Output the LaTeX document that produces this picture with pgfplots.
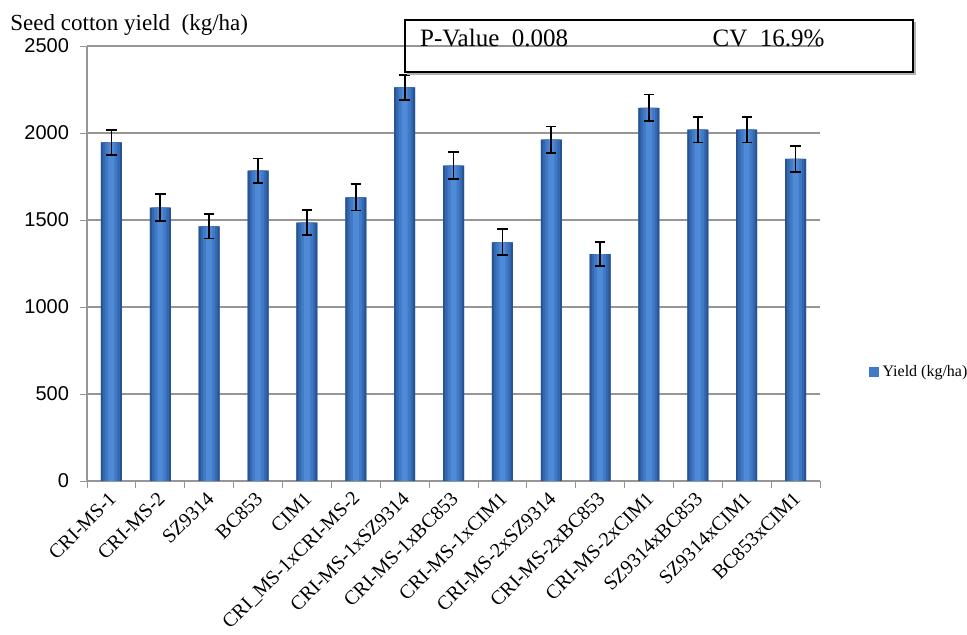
\documentclass[border=0pt]{standalone}
\usepackage{pgfplots}
\usepackage{pgfplotstable}
\usepackage{fontspec}
\pgfplotsset{compat=1.18}
\setmainfont{Liberation Serif}
\newfontfamily\arialf{Liberation Sans}

\definecolor{barA}{RGB}{40,82,145}
\definecolor{barB}{RGB}{52,104,176}
\definecolor{barC}{RGB}{64,122,198}
\definecolor{barD}{RGB}{78,138,214}
\definecolor{gridgray}{RGB}{150,150,150}

% yield per genotype, with error
\pgfplotstableread{
x y e
0 1946 73
1 1571 78
2 1463 70
3 1783 70
4 1485 72
5 1630 76
6 2262 71
7 1812 77
8 1372 75
9 1962 76
10 1304 70
11 2145 77
12 2019 73
13 2019 73
14 1851 75
}\yielddata

\begin{document}
\begin{tikzpicture}
\begin{axis}[
    scale only axis,
    width=366.5pt, height=217.5pt,
    ybar, bar width=10.5pt,
    ymin=0, ymax=2500, ytick={0,500,...,2500},
    xmin=-0.5, xmax=14.5,
    xtick={0,...,14},
    xticklabels={CRI-MS-1, CRI-MS-2, SZ9314, BC853, CIM1, CRI\_MS-1xCRI-MS-2, CRI-MS-1xSZ9314, CRI-MS-1xBC853, CRI-MS-1xCIM1, CRI-MS-2xSZ9314, CRI-MS-2xBC853, CRI-MS-2xCIM1, SZ9314xBC853, SZ9314xCIM1, BC853xCIM1},
    minor xtick={-0.5,0.5,...,14.5},
    x tick label style={font=\fontsize{10}{12}\selectfont, rotate=45, anchor=east, yshift=-3pt, xshift=-1pt, inner sep=1pt},
    y tick label style={font=\arialf\fontsize{10}{12}\selectfont, /pgf/number format/assume math mode=true, /pgf/number format/1000 sep={}, xshift=-2pt},
    major x tick style={draw=none},
    minor x tick style={draw=gridgray, thin},
    y tick style={draw=gridgray, thin},
    tick align=outside,
    major tick length=3.5pt, minor tick length=3.5pt,
    ymajorgrids, grid style={gridgray, line width=0.6pt},
    axis lines*=left,
    axis line style={draw=gridgray, line width=0.6pt, -},
    clip=false,
    legend style={at={(rel axis cs:1.058,0.25)}, anchor=west, draw=none, fill=none, font=\fontsize{8}{10}\selectfont},
    legend image code/.code={\path[#1, draw=none] (0pt,-2.4pt) rectangle (4.8pt,2.4pt);},
]
% bars drawn in layers of decreasing width for the rounded look
\addplot[draw=none, fill=barC, bar shift=0pt, bar width=10.5pt] table[x=x, y=y] {\yielddata};
\addlegendentry{Yield (kg/ha)}
\addplot[forget plot, draw=none, fill=barA, bar shift=0pt, bar width=10.5pt] table[x=x, y=y] {\yielddata};
\addplot[forget plot, draw=none, fill=barB, bar shift=0pt, bar width=8.5pt] table[x=x, y=y] {\yielddata};
\addplot[forget plot, draw=none, fill=barC, bar shift=0pt, bar width=6pt] table[x=x, y=y] {\yielddata};
\addplot[forget plot, draw=none, fill=barD, bar shift=0pt, bar width=3pt,
    error bars/.cd, y dir=both, y explicit,
    error bar style={black, line width=0.85pt},
    error mark options={rotate=90, mark size=2.6pt, black, line width=0.85pt},
] table[x=x, y=y, y error=e] {\yielddata};

\draw[gray!60, line width=1pt] ([xshift=1pt,yshift=-1pt]rel axis cs:0.434,0.940) -- ([xshift=1pt,yshift=-1pt]rel axis cs:1.127,0.940) -- ([xshift=1pt,yshift=-1pt]rel axis cs:1.127,1.060);
\draw[black, line width=0.8pt] (rel axis cs:0.434,0.940) rectangle (rel axis cs:1.127,1.060);
\node[anchor=west, inner sep=0pt, font=\fontsize{12.5}{14}\selectfont] at (rel axis cs:0.454,1.018) {P-Value\ \ 0.008};
\node[anchor=west, inner sep=0pt, font=\fontsize{12.5}{14}\selectfont] at (rel axis cs:0.853,1.018) {CV\ \ 16.9\%};
\node[anchor=west, inner sep=0pt, font=\fontsize{11.5}{13}\selectfont] at (rel axis cs:-0.105,1.048) {Seed cotton yield\ \ (kg/ha)};

\coordinate (BL) at (rel axis cs:-0.1187,-0.354);
\coordinate (TR) at (rel axis cs:1.2005,1.1057);
\end{axis}
\pgfresetboundingbox
\path[use as bounding box] (BL) rectangle (TR);
\end{tikzpicture}
\end{document}
